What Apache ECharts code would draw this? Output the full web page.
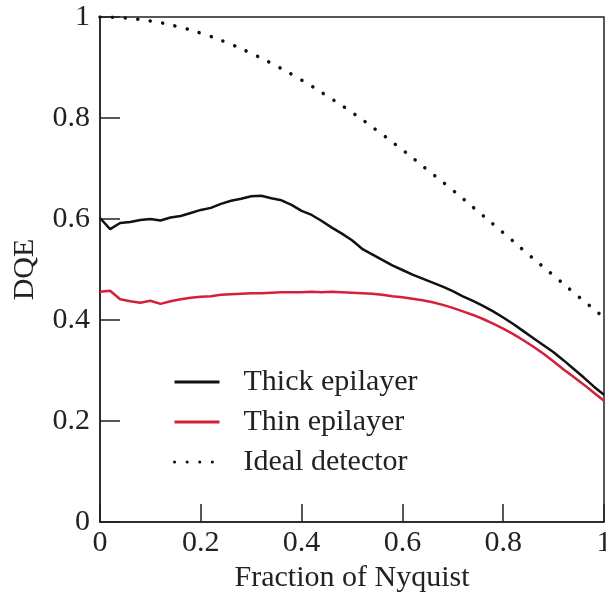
<!DOCTYPE html>
<html>
<head>
<meta charset="utf-8">
<script src="https://cdn.jsdelivr.net/npm/echarts@6/dist/echarts.min.js"></script>
<style>
  html, body { margin: 0; padding: 0; background: #fff; }
  #chart { width: 606px; height: 595px; }
</style>
</head>
<body>
<div id="chart"></div>
<script>
// fraction of Nyquist, step 0.02
const freq = [
  0.00, 0.02, 0.04, 0.06, 0.08, 0.10, 0.12, 0.14, 0.16, 0.18,
  0.20, 0.22, 0.24, 0.26, 0.28, 0.30, 0.32, 0.34, 0.36, 0.38,
  0.40, 0.42, 0.44, 0.46, 0.48, 0.50, 0.52, 0.54, 0.56, 0.58,
  0.60, 0.62, 0.64, 0.66, 0.68, 0.70, 0.72, 0.74, 0.76, 0.78,
  0.80, 0.82, 0.84, 0.86, 0.88, 0.90, 0.92, 0.94, 0.96, 0.98, 1.00
];

const thickDqe = [
  0.602, 0.580, 0.592, 0.594, 0.598, 0.600, 0.597, 0.603, 0.606, 0.612,
  0.618, 0.622, 0.630, 0.636, 0.640, 0.645, 0.646, 0.641, 0.637, 0.628,
  0.616, 0.608, 0.596, 0.583, 0.571, 0.558, 0.541, 0.530, 0.519, 0.508,
  0.499, 0.490, 0.482, 0.474, 0.466, 0.457, 0.447, 0.438, 0.428, 0.417,
  0.405, 0.392, 0.378, 0.364, 0.350, 0.336, 0.320, 0.303, 0.286, 0.268, 0.252
];

const thinDqe = [
  0.456, 0.458, 0.441, 0.437, 0.434, 0.438, 0.432, 0.437, 0.441, 0.444,
  0.446, 0.447, 0.450, 0.451, 0.452, 0.453, 0.453, 0.454, 0.455, 0.455,
  0.455, 0.456, 0.455, 0.456, 0.455, 0.454, 0.453, 0.452, 0.450, 0.447,
  0.445, 0.442, 0.439, 0.435, 0.430, 0.424, 0.417, 0.410, 0.402, 0.393,
  0.383, 0.372, 0.360, 0.347, 0.333, 0.318, 0.302, 0.287, 0.272, 0.256, 0.240
];

// ideal detector, step 0.05
const idealFreq = [
  0.00, 0.05, 0.10, 0.15, 0.20, 0.25, 0.30, 0.35, 0.40, 0.45,
  0.50, 0.55, 0.60, 0.65, 0.70, 0.75, 0.80, 0.85, 0.90, 0.95, 1.00
];
const idealDqe = [
  1.000, 0.998, 0.992, 0.982, 0.968, 0.950, 0.928, 0.903, 0.875, 0.844,
  0.811, 0.775, 0.737, 0.697, 0.657, 0.615, 0.573, 0.530, 0.488, 0.446, 0.405
];

const seriesNames = ['Thick epilayer', 'Thin epilayer', 'Ideal detector'];

const font = 'Liberation Serif';
const ink = '#222';

function pairs(xs, ys) {
  return xs.map((x, i) => [x, ys[i]]);
}

const chart = echarts.init(document.getElementById('chart'));

chart.setOption({
  animation: false,
  backgroundColor: '#fff',
  grid: {
    left: 100, right: 2, top: 17, bottom: 73,
    outerBoundsMode: 'none', containLabel: false,
    show: true, borderColor: ink, borderWidth: 1.5
  },
  legend: {
    orient: 'vertical',
    left: 168, top: 362,
    itemWidth: 45, itemHeight: 14, itemGap: 10,
    data: seriesNames,
    itemStyle: { opacity: 0 },
    lineStyle: { width: 3 },
    textStyle: { fontFamily: font, fontSize: 30, color: ink, lineHeight: 30, padding: [0, 0, 0, 19] }
  },
  xAxis: {
    type: 'value', min: 0, max: 1, interval: 0.2,
    name: 'Fraction of Nyquist', nameLocation: 'middle', nameGap: 40,
    nameTextStyle: { fontFamily: font, fontSize: 30, color: ink },
    axisLine: { lineStyle: { color: ink, width: 1.5 } },
    axisTick: { inside: true, length: 18, lineStyle: { color: ink, width: 1.5 } },
    axisLabel: { fontFamily: font, fontSize: 30, color: ink, margin: 6, hideOverlap: false },
    splitLine: { show: false }
  },
  yAxis: {
    type: 'value', min: 0, max: 1, interval: 0.2,
    name: 'DQE', nameLocation: 'middle', nameRotate: 90, nameGap: 60,
    nameTextStyle: { fontFamily: font, fontSize: 30, color: ink },
    axisLine: { show: true, lineStyle: { color: ink, width: 1.5 } },
    axisTick: { show: true, inside: true, length: 20, lineStyle: { color: ink, width: 1.5 } },
    axisLabel: { fontFamily: font, fontSize: 30, color: ink, margin: 10 },
    splitLine: { show: false }
  },
  series: [
    {
      name: seriesNames[0], type: 'line', symbol: 'none',
      data: pairs(freq, thickDqe),
      lineStyle: { color: '#111', width: 2.5 },
      itemStyle: { color: '#111' }
    },
    {
      name: seriesNames[1], type: 'line', symbol: 'none',
      data: pairs(freq, thinDqe),
      lineStyle: { color: '#d4203a', width: 2.5 },
      itemStyle: { color: '#d4203a' }
    },
    {
      name: seriesNames[2], type: 'line', symbol: 'none', smooth: true,
      data: pairs(idealFreq, idealDqe),
      lineStyle: { color: '#111', width: 3.5, type: [0.1, 12.5], cap: 'round' },
      itemStyle: { color: '#111' }
    }
  ]
});
</script>
</body>
</html>
